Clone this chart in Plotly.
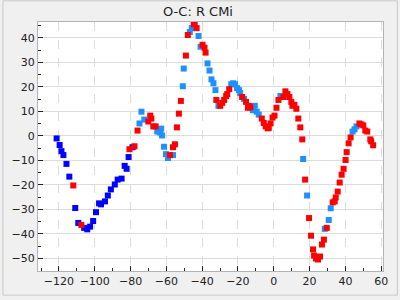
import plotly.graph_objects as go

# Series 1 (blue)
x_blue = [-121.3, -119.6, -118.6, -117.5, -115.8, -114.2, -110.9, -109.2, -105.9, -104.2,
          -102.6, -100.9, -99.3, -97.6, -96.5, -94.3, -92.7, -91.0, -88.8, -87.2,
          -85.0, -83.3, -82.2, -81.1, -78.9]
y_blue = [-1.0, -3.7, -6.2, -7.8, -11.4, -16.6, -29.4, -35.5, -37.5, -38.1,
          -37.0, -34.7, -31.1, -27.5, -27.9, -26.7, -24.3, -21.8, -19.8, -17.8,
          -17.4, -12.2, -13.4, -8.6, -4.6]

# Series 2 (dodger blue)
x_dodger = [-75.0, -73.9, -72.3, -65.1, -63.5, -62.9, -62.4, -61.3, -60.2, -59.1,
            -56.3, -50.8, -50.3, -46.9, -45.8, -42.0, -40.9, -37.0, -35.9, -34.8,
            -33.7, -32.6, -30.9, -23.8, -22.7, -21.6, -20.5, -19.4, -18.8, -16.6,
            -11.7, -10.6, -9.5, -8.4, 3.7, 16.4, 18.6, 28.5, 30.7, 31.8,
            44.0, 45.1, 46.2]
y_dodger = [5.1, 9.9, 6.7, 1.8, 1.4, 3.0, 0.2, -4.4, -7.4, -9.0,
            -7.8, 20.3, 27.5, 42.4, 44.0, 40.8, 36.4, 29.6, 26.7, 23.1,
            21.5, 18.7, 12.3, 21.1, 21.5, 21.1, 19.5, 18.7, 17.5, 15.1,
            10.5, 12.3, 9.9, 8.7, 16.3, -9.4, -24.3, -37.9, -34.3, -29.5,
            1.8, 2.7, 3.9]

# Series 3 (red)
x_red = [-112.0, -107.5, -80.6, -77.8, -76.1, -70.1, -69.0, -68.4, -67.3, -66.0,
         -58.0, -56.3, -55.2, -54.1, -53.0, -51.9, -49.1, -48.0, -44.7, -44.2,
         -43.1, -39.8, -38.7, -38.1, -32.1, -29.9, -28.8, -27.7, -26.6, -26.0,
         -24.9, -17.7, -15.5, -14.4, -13.9, -13.1, -6.7, -5.6, -4.5, -3.4,
         -2.8, -1.8, -0.7, 0.4, 1.5, 2.6, 5.4, 6.5, 7.6, 8.7,
         9.8, 10.4, 11.5, 12.6, 13.7, 14.8, 15.9, 17.5, 19.7, 20.8,
         21.9, 22.5, 23.6, 24.7, 25.8, 26.9, 28.0, 29.6, 32.9, 34.0,
         34.6, 35.7, 36.8, 37.9, 39.0, 40.1, 40.7, 41.8, 42.9, 47.8,
         48.9, 50.0, 51.1, 52.2, 53.9, 54.4, 55.5]
y_red = [-20.2, -36.3, -5.4, -4.2, 2.2, 5.9, 8.3, 7.1, 3.9, 3.9,
         -7.8, -4.6, -3.4, 3.5, 9.1, 14.3, 32.8, 41.2, 45.6, 46.0,
         44.0, 37.2, 36.0, 34.0, 14.7, 12.3, 13.5, 14.7, 16.3, 17.1,
         19.1, 15.9, 13.9, 11.5, 12.3, 11.7, 7.1, 5.3, 3.9, 3.1,
         3.3, 5.1, 7.5, 8.3, 11.5, 14.7, 15.9, 18.2, 17.1, 15.9,
         13.9, 12.3, 12.7, 11.1, 7.1, 3.5, -1.4, -17.8, -33.5, -40.7,
         -46.3, -48.8, -50.0, -50.4, -49.2, -44.3, -42.3, -37.5, -27.1, -26.7,
         -25.1, -22.7, -19.0, -15.8, -13.4, -9.8, -6.6, -3.0, -0.6, 5.1,
         4.7, 4.3, 2.2, 1.8, -1.4, -2.2, -3.8]

x_range = [-131.7, 61]
y_range = [-55.1, 46.5]

fig = go.Figure()
for xs, ys, col in [(x_blue, y_blue, "#0000ff"), (x_dodger, y_dodger, "#1e90ff"), (x_red, y_red, "#ff0000")]:
    fig.add_trace(go.Scatter(x=xs, y=ys, mode="markers",
                             marker=dict(symbol="square", size=6, color=col, line=dict(width=0)),
                             showlegend=False))

ml, mr, mt, mb = 36, 15, 22, 25
pw, ph = 400 - ml - mr, 300 - mt - mb

fig.update_layout(
    width=400, height=300,
    margin=dict(l=ml, r=mr, t=mt, b=mb),
    paper_bgcolor="#f0f0f0",
    plot_bgcolor="#ffffff",
    font=dict(family="DejaVu Sans", size=11, color="#222222"),
    title=dict(text="O-C: R CMi", x=198 / 400, xanchor="center", y=1 - 11 / 300, yanchor="middle",
               font=dict(family="DejaVu Sans", size=13, color="#222222")),
    xaxis=dict(range=x_range, dtick=20, tick0=0, showgrid=True, gridcolor="#dcdcdc", griddash="dash",
               gridwidth=1, zeroline=False, showline=True, linecolor="#b4b4b4", linewidth=1, mirror=True,
               ticks="inside", ticklen=5, tickcolor="#222222",
               minor=dict(dtick=10, tick0=0, ticks="inside", ticklen=3, tickcolor="#222222", showgrid=False)),
    yaxis=dict(range=y_range, dtick=10, tick0=0, showgrid=True, gridcolor="#dcdcdc", gridwidth=1,
               zeroline=False, showline=True, linecolor="#b4b4b4", linewidth=1, mirror=True,
               ticks="inside", ticklen=5, tickcolor="#222222",
               minor=dict(dtick=5, tick0=0, ticks="inside", ticklen=3, tickcolor="#222222", showgrid=False)),
    shapes=[dict(type="rect", xref="paper", yref="paper",
                 x0=-(ml - 0.5) / pw, x1=1 + (mr - 0.5) / pw, y0=-(mb - 0.5) / ph, y1=1 + (mt - 0.5) / ph,
                 line=dict(color="#c8c8c8", width=1), fillcolor="rgba(0,0,0,0)", layer="below")],
)

fig.write_html("out.html")
